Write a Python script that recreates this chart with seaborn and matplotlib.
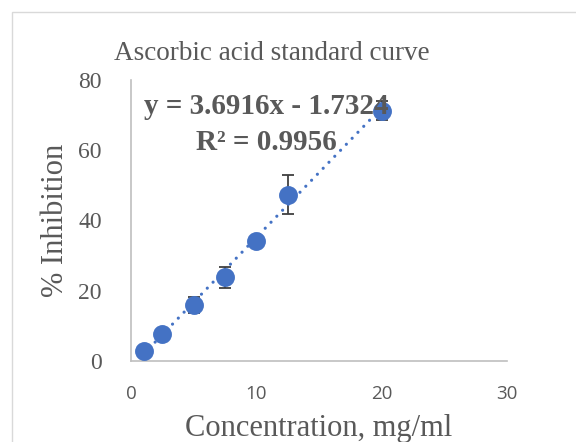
import numpy as np
import pandas as pd
import matplotlib
matplotlib.use("Agg")
import matplotlib.pyplot as plt
import seaborn as sns
from matplotlib.patches import Rectangle

# Data
concentration = [1, 2.5, 5, 7.5, 10, 12.5, 20]
inhibition = [2.9, 7.6, 15.9, 23.8, 34.3, 47.4, 71.3]
error = [0, 0, 2.2, 3.0, 0, 5.5, 2.8]
slope = 3.6916
intercept = -1.7324
r2 = 0.9956
x_ticks = [0, 10, 20, 30]
y_ticks = [0, 20, 40, 60, 80]
title = "Ascorbic acid standard curve"
x_label = "Concentration, mg/ml"
y_label = "% Inhibition"

df = pd.DataFrame({"conc": concentration, "inh": inhibition, "err": error})
trend = pd.DataFrame({"conc": [min(concentration), max(concentration)]})
trend["inh"] = slope * trend["conc"] + intercept

sns.set_theme(style="white")
plt.rcParams["font.family"] = ["Liberation Serif", "DejaVu Serif"]

text_gray = "#595959"
blue = "#4472C4"

fig = plt.figure(figsize=(5.76, 4.42), dpi=100)
ax = fig.add_axes([131 / 576, 1 - 361 / 442, (507 - 131) / 576, (361 - 80) / 442])

# chart border
fig.patches.append(Rectangle((12 / 576, -0.1), 1.2, 1 - 12 / 442 + 0.1,
                             transform=fig.transFigure, fill=False,
                             edgecolor="#D9D9D9", linewidth=1.0, zorder=0))

ax.errorbar(df["conc"], df["inh"], yerr=df["err"], fmt="none",
            ecolor="#404040", elinewidth=1.3, capsize=4.5, capthick=1.3, zorder=2)
sns.lineplot(data=trend, x="conc", y="inh", ax=ax, color=blue,
             linewidth=2.3, linestyle=(0, (0.01, 2.6)), zorder=3)
ax.lines[-1].set_dash_capstyle("round")
sns.scatterplot(data=df, x="conc", y="inh", ax=ax, color=blue, s=185,
                edgecolor=blue, linewidth=0, zorder=4)

ax.set_xlim(0, 30)
ax.set_ylim(0, 80)
ax.set_xticks(x_ticks)
ax.set_yticks(y_ticks)
ax.set_xticklabels([str(t) for t in x_ticks], family=["Open Sans", "DejaVu Sans"],
                   fontsize=13.5, color=text_gray)
ax.set_yticklabels([str(t) for t in y_ticks], fontsize=17, color=text_gray)
ax.tick_params(axis="both", length=0)
ax.tick_params(axis="x", pad=17)
ax.tick_params(axis="y", pad=21)

for s in ["top", "right"]:
    ax.spines[s].set_visible(False)
for s in ["left", "bottom"]:
    ax.spines[s].set_color("#BFBFBF")
    ax.spines[s].set_linewidth(1.2)

ax.set_xlabel(x_label, fontsize=22, color=text_gray, labelpad=8)
ax.set_ylabel(y_label, fontsize=22, color=text_gray, labelpad=6)
fig.text(272 / 576, 1 - 54 / 442, title, ha="center", va="center",
         fontsize=19.5, color=text_gray)

ax.text(0.359, 1 - (107 - 80) / 281, f"y = {slope}x - {abs(intercept)}",
        transform=ax.transAxes, ha="center", va="center", fontsize=21,
        fontweight="bold", color=text_gray, zorder=5)
ax.text(0.359, 1 - (143 - 80) / 281, f"R² = {r2}",
        transform=ax.transAxes, ha="center", va="center", fontsize=21,
        fontweight="bold", color=text_gray, zorder=5)

fig.savefig("out.png", dpi=100)
